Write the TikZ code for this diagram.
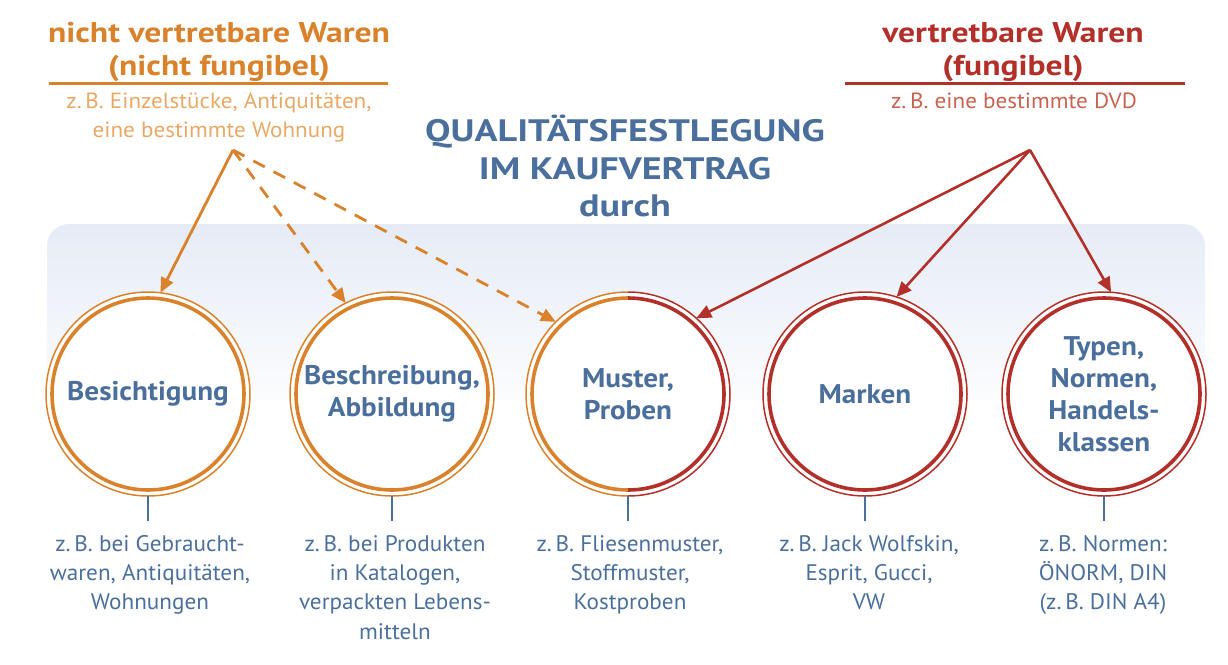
\documentclass[tikz,border=0pt]{standalone}
\usepackage{fontspec}
\setmainfont{PT Sans}
\newfontfamily\headf{PT Sans}[FakeStretch=1.18]
\newfontfamily\ttlf{PT Sans}[FakeStretch=1.23]
\newfontfamily\subf{PT Sans}[FakeStretch=1.05]
\newfontfamily\lblf{PT Sans}[FakeStretch=1.08]
\newfontfamily\notef{PT Sans}[FakeStretch=1.03]
\usetikzlibrary{arrows.meta}
\definecolor{org}{HTML}{D9822B}
\definecolor{orgl}{HTML}{E9A866}
\definecolor{rd}{HTML}{B3302A}
\definecolor{rdl}{HTML}{C9624F}
\definecolor{bl}{HTML}{4A6F9C}
\definecolor{bgb}{HTML}{E6ECF6}
\begin{document}
\begin{tikzpicture}[x=1pt,y=-1pt,
  head/.style={font=\headf\fontsize{28.5}{33.5}\selectfont\bfseries, align=center, inner sep=0, anchor=north},
  sub/.style={font=\subf\fontsize{22}{29}\selectfont, align=center, inner sep=0, anchor=north},
  ttl/.style={font=\ttlf\fontsize{31}{37.5}\selectfont\bfseries, text=bl, align=center, inner sep=0, anchor=north},
  ring/.style={circle, minimum size=204pt, inner sep=0, outer sep=0, text=bl, align=center,
    font=\lblf\fontsize{27}{32}\selectfont\bfseries},
  note/.style={font=\notef\fontsize{22.5}{29.3}\selectfont, text=bl, align=center, anchor=north, inner sep=0},
  oarr/.style={org, line width=2.8pt, -{Triangle[length=15pt,width=13pt]}},
  odash/.style={oarr, dash pattern=on 13pt off 10pt},
  rarr/.style={rd, line width=2.6pt, -{Triangle[length=15pt,width=13pt]}},
  stem/.style={bl, line width=2pt, shorten >=14pt},
  thin/.style={line width=1.5pt},
  thick/.style={line width=3.6pt}]
\useasboundingbox (0,0) rectangle (1228,664);
% background
\shade[top color=bgb, bottom color=white, rounded corners=22pt] (47,224) rectangle (1205,430);
\fill[white] (40,400) rectangle (1215,440);

% headings
\node[head, text=org] (h1) at (219,22) {nicht vertretbare Waren\\(nicht fungibel)};
\draw[org, line width=3pt] (49,83) -- (388,83);
\node[sub, text=orgl] (s1) at (219,93) {z.\,B. Einzelstücke, Antiquitäten,\\eine bestimmte Wohnung};
\node[head, text=rd] (h2) at (1013,22) {vertretbare Waren\\(fungibel)};
\draw[rd, line width=3pt] (845,83) -- (1185,83);
\node[sub, text=rdl] (s2) at (1014,93) {z.\,B. eine bestimmte DVD};
\node[ttl] (t) at (625,115) {QUALITÄTSFESTLEGUNG\\IM KAUFVERTRAG\\durch};

% white discs behind the circles
\foreach \p in {(148,394),(392,394),(628,394),(865,394),(1104,394)}{
  \fill[white] \p circle (102);
}

% circles
\node[ring] (c1) at (148,394) {Besichtigung};
\node[ring] (c2) at (392,394) {Beschreibung,\\Abbildung};
\node[ring] (c3) at (628,394) {Muster,\\Proben};
\node[ring] (c4) at (865,394) {Marken};
\node[ring] (c5) at (1104,394) {Typen,\\Normen,\\Handels-\\klassen};

\foreach \c/\col in {c1/org, c2/org, c4/rd, c5/rd}{
  \draw[\col, thin] (\c.center) circle (102);
  \draw[\col, thick] (\c.center) circle (96);
}
\begin{scope}
  \clip (500,270) rectangle (628,520);
  \draw[org, thin] (c3.center) circle (102);
  \draw[org, thick] (c3.center) circle (96);
\end{scope}
\begin{scope}
  \clip (628,270) rectangle (760,520);
  \draw[rd, thin] (c3.center) circle (102);
  \draw[rd, thick] (c3.center) circle (96);
\end{scope}

% notes
\node[note] (n1) at (150,535) {z.\,B. bei Gebraucht-\\waren, Antiquitäten,\\Wohnungen};
\node[note] (n2) at (395,535) {z.\,B. bei Produkten\\in Katalogen,\\verpackten Lebens-\\mitteln};
\node[note] (n3) at (630,535) {z.\,B. Fliesenmuster,\\Stoffmuster,\\Kostproben};
\node[note] (n4) at (869,535) {z.\,B. Jack Wolfskin,\\Esprit, Gucci,\\VW};
\node[note] (n5) at (1103,535) {z.\,B. Normen:\\ÖNORM, DIN\\(z.\,B. DIN A4)};
\foreach \i in {1,...,5}{
  \draw[stem] (c\i.south) -- (c\i.south |- n\i.north);
}

% arrows
\coordinate (o) at (233,150);
\coordinate (r) at (1030,150);
\draw[oarr] (o) -- (c1.83);
\draw[odash] (o) -- (c2.117);
\draw[odash] (o) -- (c3.135);
\draw[rarr] (r) -- (c3.48);
\draw[rarr] (r) -- (c4.72);
\draw[rarr] (r) -- (c5.86);
\end{tikzpicture}
\end{document}
